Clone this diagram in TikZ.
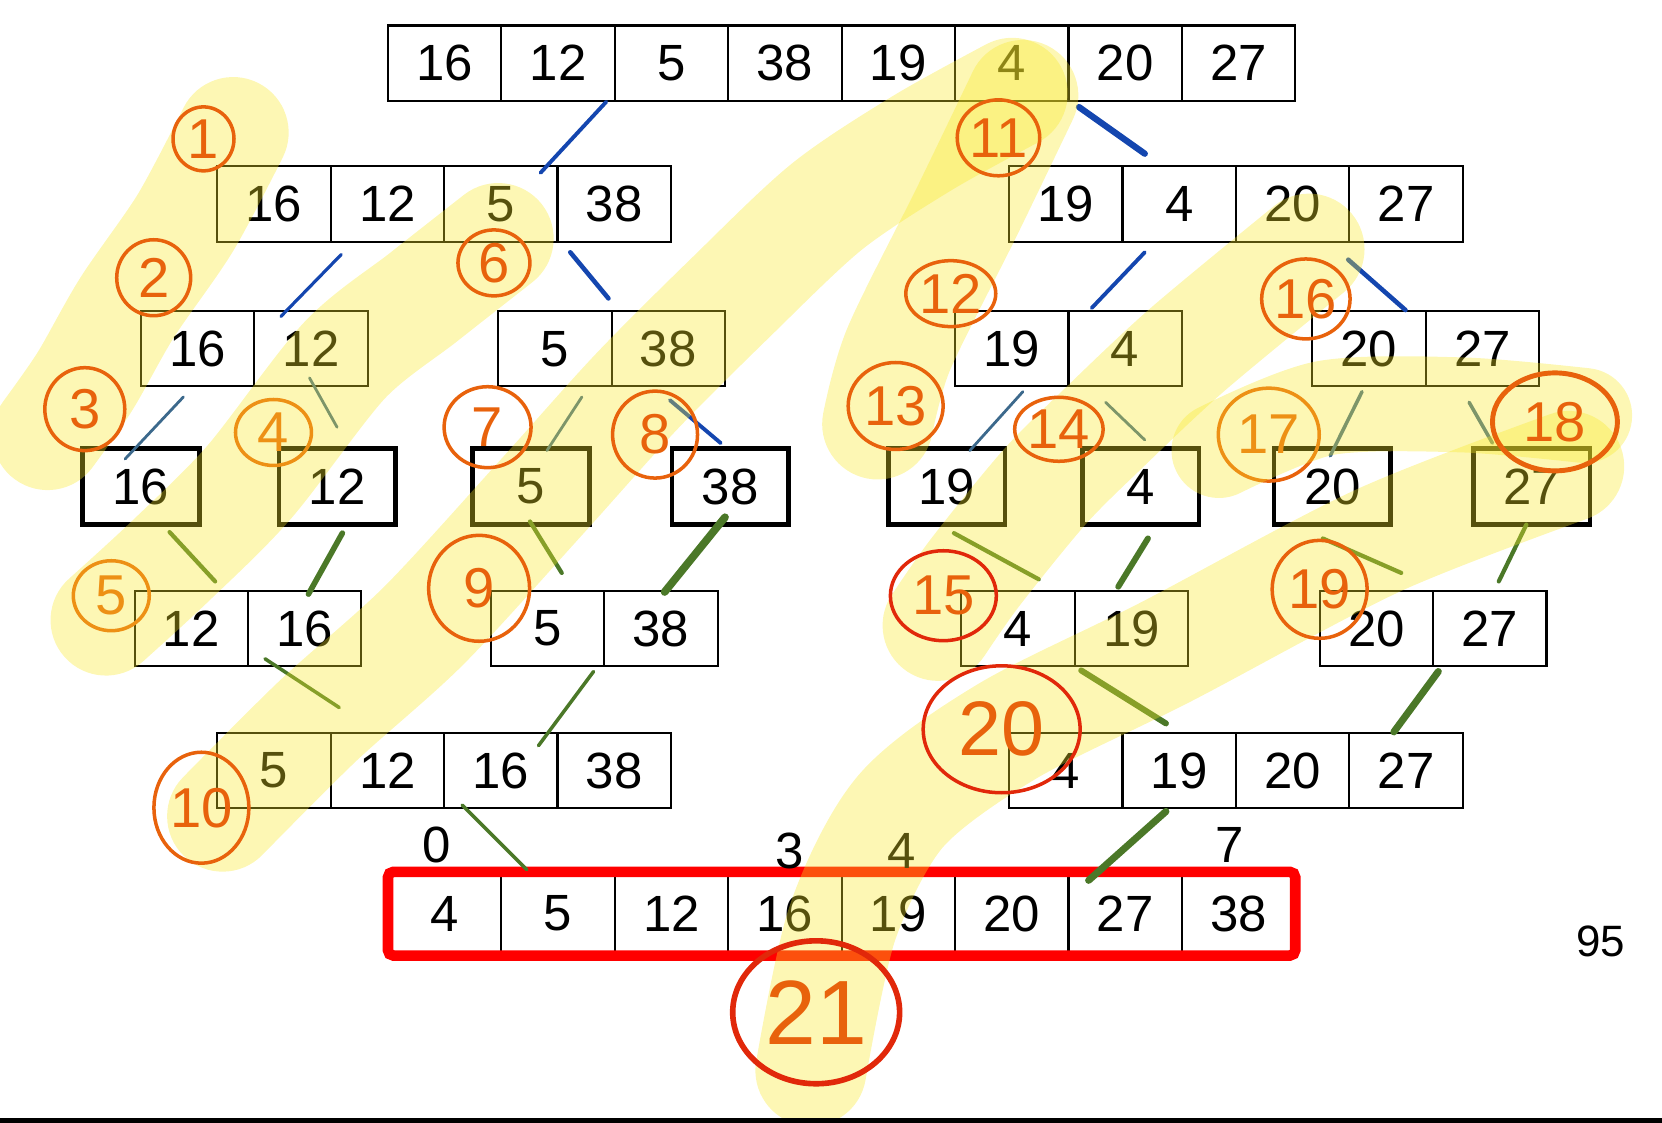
\documentclass[tikz,border=0pt]{standalone}
\usepackage{fontspec}
\setmainfont{Liberation Sans}
\usepackage{xcolor}
\usetikzlibrary{calc,shapes.geometric}

\definecolor{penblue}{RGB}{20,70,175}
\definecolor{pensteel}{RGB}{60,105,140}
\definecolor{pengreen}{RGB}{75,120,40}
\definecolor{penorange}{RGB}{232,98,12}
\definecolor{penred}{RGB}{225,40,10}
\definecolor{boxred}{RGB}{255,0,0}
\definecolor{hlyellow}{RGB}{248,232,40}

\begin{document}
\begin{tikzpicture}[x=0.0106cm, y=-0.0106cm,
  cell/.style={draw, line width=0.6pt, minimum width=1.134cm, minimum height=0.753cm, inner sep=0pt, outer sep=0pt, font=\fontsize{14.5}{17}\selectfont},
  single/.style={cell, line width=1.3pt, minimum width=1.166cm, minimum height=0.763cm},
  result/.style={cell, minimum height=0.837cm},
  redbox/.style={draw=boxred, line width=3pt, rounded corners=1.5pt},
  idx/.style={font=\fontsize{14.5}{17}\selectfont},
  bluestroke/.style={draw=penblue, line width=1.1pt, line cap=round},
  greystroke/.style={draw=pensteel, line width=0.8pt, line cap=round},
  greenstroke/.style={draw=pengreen, line width=1.2pt, line cap=round},
  hlband/.style={draw=hlyellow, line width=1.11cm, line cap=round, line join=round, opacity=0.35},
  num/.style={ellipse, draw=penorange, line width=1pt, text=penorange, inner sep=0pt, font=\fontsize{16}{18}\selectfont}]

\useasboundingbox (0,0) rectangle (1568,1059);

  % Define coordinates for nodes
\node[cell] (r0c1) at (419.5,59.5) {16}; \node[cell] (r0c2) at (526.5,59.5) {12}; \node[cell] (r0c3) at (633.5,59.5) {5}; \node[cell] (r0c4) at (740.5,59.5) {38}; \node[cell] (r0c5) at (847.5,59.5) {19}; \node[cell] (r0c6) at (954.5,59.5) {4}; \node[cell] (r0c7) at (1061.5,59.5) {20}; \node[cell] (r0c8) at (1168.5,59.5) {27};
\node[cell] (r1c1) at (258.5,192.5) {16}; \node[cell] (r1c2) at (365.5,192.5) {12}; \node[cell] (r1c3) at (472.5,192.5) {5}; \node[cell] (r1c4) at (579.5,192.5) {38}; \node[cell] (r1c5) at (1005.5,192.5) {19}; \node[cell] (r1c6) at (1112.5,192.5) {4}; \node[cell] (r1c7) at (1219.5,192.5) {20}; \node[cell] (r1c8) at (1326.5,192.5) {27};
\node[cell] (r2c1) at (186.5,329) {16}; \node[cell] (r2c2) at (293.5,329) {12}; \node[cell] (r2c3) at (523.5,329) {5}; \node[cell] (r2c4) at (630.5,329) {38}; \node[cell] (r2c5) at (954.5,329) {19}; \node[cell] (r2c6) at (1061.5,329) {4}; \node[cell] (r2c7) at (1291.5,329) {20}; \node[cell] (r2c8) at (1398.5,329) {27};
\node[single] (r3c1) at (133,459) {16}; \node[single] (r3c2) at (318,459) {12}; \node[single] (r3c3) at (501,459) {5}; \node[single] (r3c4) at (689,459) {38}; \node[single] (r3c5) at (893,459) {19}; \node[single] (r3c6) at (1076,459) {4}; \node[single] (r3c7) at (1257,459) {20}; \node[single] (r3c8) at (1445,459) {27};
\node[cell] (r4c1) at (180.5,593) {12}; \node[cell] (r4c2) at (287.5,593) {16}; \node[cell] (r4c3) at (516.5,593) {5}; \node[cell] (r4c4) at (623.5,593) {38}; \node[cell] (r4c5) at (960.5,593) {4}; \node[cell] (r4c6) at (1067.5,593) {19}; \node[cell] (r4c7) at (1298.5,593) {20}; \node[cell] (r4c8) at (1405.5,593) {27};
\node[cell] (r5c1) at (258.5,727) {5}; \node[cell] (r5c2) at (365.5,727) {12}; \node[cell] (r5c3) at (472.5,727) {16}; \node[cell] (r5c4) at (579.5,727) {38}; \node[cell] (r5c5) at (1005.5,727) {4}; \node[cell] (r5c6) at (1112.5,727) {19}; \node[cell] (r5c7) at (1219.5,727) {20}; \node[cell] (r5c8) at (1326.5,727) {27};
\node[result] (r6c1) at (419.5,862) {4}; \node[result] (r6c2) at (526.5,862) {5}; \node[result] (r6c3) at (633.5,862) {12}; \node[result] (r6c4) at (740.5,862) {16}; \node[result] (r6c5) at (847.5,862) {19}; \node[result] (r6c6) at (954.5,862) {20}; \node[result] (r6c7) at (1061.5,862) {27}; \node[result] (r6c8) at (1168.5,862) {38};
\draw[redbox] (r6c1.north west) rectangle (r6c8.south east);
\node[idx] (i0) at (412,797) {0}; \node[idx] (i3) at (745,803) {3}; \node[idx] (i4) at (851,803) {4}; \node[idx] (i7) at (1160,797) {7}; \node[font=\fontsize{12.5}{15}\selectfont] (p95) at (1510,888) {95};

  % Draw strokes between nodes
\draw[bluestroke] ($(r0c2.south east)+(-8,1)$) -- ($(r1c3.north east)+(-16,6)$); \draw[bluestroke, line width=1.8pt] ($(r0c6.south east)+(10,6)$) -- ($(r1c6.north west)+(21,-12)$); \draw[bluestroke, line width=0.9pt] ($(r1c2.south west)+(10,12)$) -- ($(r2c2.north west)+(25,5)$); \draw[bluestroke, line width=1.3pt] ($(r1c4.south west)+(12,10)$) -- ($(r2c4.north west)+(-3,-12)$); \draw[bluestroke] ($(r1c6.south west)+(21,10)$) -- ($(r2c6.north west)+(22,-3)$); \draw[bluestroke, line width=1.3pt] ($(r1c7.south east)+(-1,17)$) -- ($(r2c7.north east)+(-19,-1)$);
\draw[greystroke] ($(r2c1.south)+(-13.5,10)$) -- ($(r3c1.north)+(-15,10)$); \draw[greystroke] ($(r2c2.south)+(-1.5,-8)$) -- ($(r3c2.north)+(0,-20)$); \draw[greystroke] ($(r2c3.south east)+(-28,10)$) -- ($(r3c3.north)+(15,2)$); \draw[bluestroke] ($(r2c4.south)+(1.5,13)$) -- ($(r3c4.north)+(-9,-5)$); \draw[greystroke] ($(r2c5.south)+(10.5,5)$) -- ($(r3c5.north)+(22,2)$); \draw[greystroke] ($(r2c6.south)+(-18.5,15)$) -- ($(r3c6.north)+(4,-8)$); \draw[greystroke, line width=1pt] ($(r2c7.south)+(-6.5,5)$) -- ($(r3c7.north)+(-2,7)$); \draw[greystroke, line width=1pt] ($(r2c8.south)+(-12.5,15)$) -- ($(r3c8.north)+(-37,-5)$);
\draw[greenstroke] ($(r3c1.south)+(27,7)$) -- ($(r4c1.north east)+(-31,-9)$); \draw[greenstroke, line width=1.6pt] ($(r3c2.south)+(5,8)$) -- ($(r4c2.north)+(3.5,3)$); \draw[greenstroke] ($(r3c3.south)+(-1,-3)$) -- ($(r4c3.north east)+(-40,-17)$); \draw[greenstroke, line width=2.2pt] ($(r3c4.south)+(-5,-7)$) -- ($(r4c4.north)+(3.5,1)$); \draw[greenstroke] ($(r3c5.south)+(7,8)$) -- ($(r4c5.north east)+(-34,-11)$); \draw[greenstroke, line width=1.7pt] ($(r3c6.south)+(7,13)$) -- ($(r4c6.north)+(-12.5,-4)$); \draw[greenstroke] ($(r3c7.south)+(-9,13)$) -- ($(r4c7.north east)+(-30,-17)$); \draw[greenstroke] ($(r3c8.south)+(-5,0)$) -- ($(r4c8.north)+(8.5,-9)$);
\draw[greenstroke, line width=1pt] ($(r4c2.south west)+(16,-7)$) -- ($(r5c2.north west)+(8,-24)$); \draw[greenstroke, line width=1pt] ($(r4c3.south east)+(-10,5)$) -- ($(r5c3.north)+(35.5,12)$); \draw[greenstroke, line width=1.7pt] ($(r4c6.south west)+(6,4)$) -- ($(r5c6.north)+(-12.5,-9)$); \draw[greenstroke, line width=2pt] ($(r4c7.south east)+(5,5)$) -- ($(r5c8.north)+(-11.5,-1)$);
\draw[greenstroke, line width=1pt] ($(r5c3.south west)+(17,-3)$) -- ($(r6c2.north)+(-29.5,-2)$); \draw[greenstroke, line width=2pt] ($(r5c6.south)+(-12.5,3)$) -- ($(r6c7.north west)+(19,8)$);

  % Circled step numbers under the marker
\node[num, minimum width=0.76cm, minimum height=0.66cm] (n4) at (258,408) {4}; \node[num, minimum width=0.76cm, minimum height=0.70cm] (n5) at (105,562) {5}; \node[num, minimum width=1.01cm, minimum height=0.93cm] (n17) at (1197,410) {17};

  % Marker bands
\draw[hlband] plot[smooth] coordinates {(220,125) (175,210) (120,290) (80,360) (45,410)};
\draw[hlband] plot[smooth] coordinates {(470,225) (400,280) (325,340) (235,455) (160,530) (100,585)};
\draw[hlband] plot[smooth] coordinates {(955,88) (870,135) (780,195) (690,280) (600,370) (510,470) (400,590) (300,680) (210,770)};
\draw[hlband] plot[smooth] coordinates {(965,90) (912,200) (848,329) (828,400)};
\draw[hlband] plot[smooth] coordinates {(1235,235) (1120,330) (1040,405) (985,460) (920,540) (885,590)};
\draw[hlband, line width=0.95cm] plot[smooth] coordinates {(1150,425) (1250,385) (1380,382) (1495,392)};
\draw[hlband] plot[smooth] coordinates {(1480,440) (1300,510) (1100,615) (950,690) (850,765) (795,870) (765,1010)};

  % Circled step numbers
\node[num, minimum width=0.61cm, minimum height=0.64cm] (n1) at (192,131) {1}; \node[num, minimum width=0.74cm, minimum height=0.76cm] (n2) at (145,262) {2}; \node[num, minimum width=0.80cm, minimum height=0.83cm] (n3) at (80,386) {3}; \node[num, minimum width=0.72cm, minimum height=0.66cm] (n6) at (466,248) {6}; \node[num, minimum width=0.87cm, minimum height=0.81cm] (n7) at (460,403) {7}; \node[num, minimum width=0.85cm, minimum height=0.87cm] (n8) at (618,410) {8}; \node[num, minimum width=1.01cm, minimum height=1.06cm] (n9) at (452,555) {9}; \node[num, minimum width=0.95cm, minimum height=1.11cm] (n10) at (190,762) {10};
\node[num, minimum width=0.80cm, minimum height=0.76cm] (n11) at (942,130) {11}; \node[num, minimum width=0.90cm, minimum height=0.66cm] (n12) at (897,277) {12}; \node[num, minimum width=0.95cm, minimum height=0.87cm] (n13) at (845,383) {13}; \node[num, minimum width=0.81cm, minimum height=0.64cm] (n14) at (999,405) {14}; \node[num, draw=penred, minimum width=1.06cm, minimum height=0.90cm] (n15) at (890,562) {15}; \node[num, minimum width=0.87cm, minimum height=0.80cm] (n16) at (1232,282) {16};
\node[num, line width=1.4pt, minimum width=1.25cm, minimum height=0.98cm] (n18) at (1467,398) {18}; \node[num, minimum width=0.95cm, minimum height=0.98cm] (n19) at (1245,556) {19}; \node[num, draw=penred, minimum width=1.57cm, minimum height=1.27cm, font=\fontsize{22}{24}\selectfont] (n20) at (945,688) {20}; \node[num, draw=penred, line width=1.6pt, minimum width=1.67cm, minimum height=1.43cm, font=\fontsize{26}{28}\selectfont] (n21) at (770,955) {21};

\fill (0,1055) rectangle (1568,1059);

\end{tikzpicture}
\end{document}
